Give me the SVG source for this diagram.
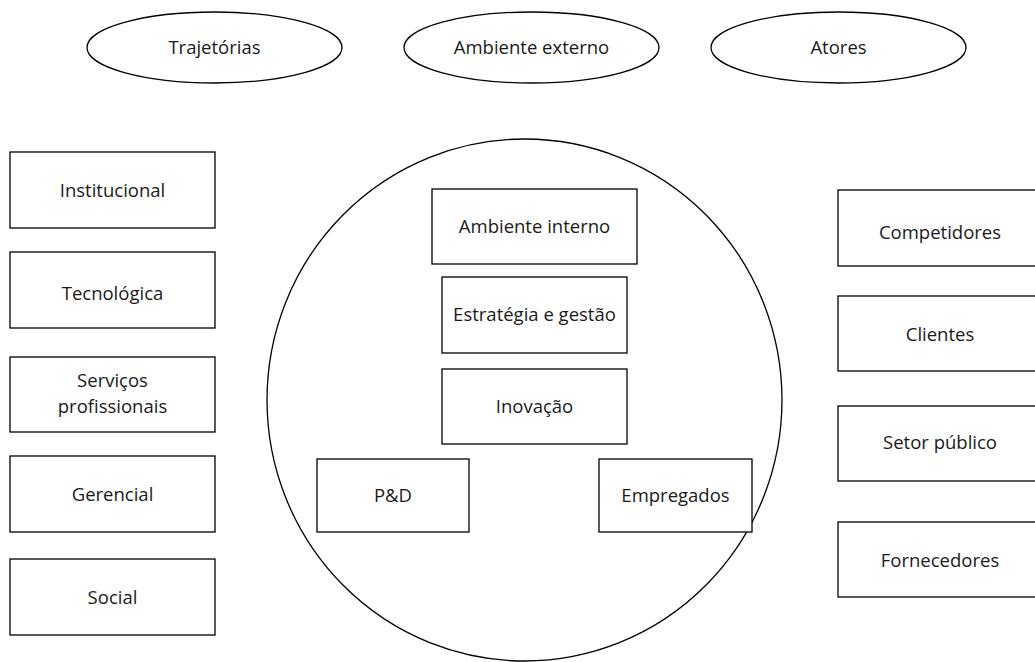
<svg xmlns="http://www.w3.org/2000/svg" width="1035" height="662" viewBox="0 0 1035 662">
<style>
.s{fill:#fff;stroke:#000;stroke-width:1.3}
.t{font-family:"Open Sans","Liberation Sans",sans-serif;font-size:18.5px;fill:#1a1a1a;text-anchor:middle}
</style>
<rect width="1035" height="662" fill="#fff"/>
<g id="trajetorias"><ellipse class="s" cx="214.5" cy="47.5" rx="127.5" ry="35.5"/><text class="t" x="214.5" y="54">Trajetórias</text></g>
<g id="ambiente-externo"><ellipse class="s" cx="531.5" cy="47.5" rx="127.5" ry="35.5"/><text class="t" x="531.5" y="54">Ambiente externo</text></g>
<g id="atores"><ellipse class="s" cx="838.5" cy="47.5" rx="127.5" ry="35.5"/><text class="t" x="838.5" y="54">Atores</text></g>
<g id="institucional"><rect class="s" x="10" y="152" width="205" height="76"/><text class="t" x="112.5" y="197">Institucional</text></g>
<g id="tecnologica"><rect class="s" x="10" y="252" width="205" height="76"/><text class="t" x="112.5" y="300">Tecnológica</text></g>
<g id="servicos"><rect class="s" x="10" y="357" width="205" height="75"/><text class="t" x="112.5" y="387">Serviços</text><text class="t" x="112.5" y="413">profissionais</text></g>
<g id="gerencial"><rect class="s" x="10" y="456" width="205" height="76"/><text class="t" x="112.5" y="501">Gerencial</text></g>
<g id="social"><rect class="s" x="10" y="559" width="205" height="76"/><text class="t" x="112.5" y="604">Social</text></g>
<g id="empresa"><ellipse class="s" cx="524.5" cy="400" rx="257.5" ry="261"/></g>
<g id="ambiente-interno"><rect class="s" x="432" y="189" width="205" height="75"/><text class="t" x="534.5" y="233">Ambiente interno</text></g>
<g id="estrategia"><rect class="s" x="442" y="277" width="185" height="76"/><text class="t" x="534.5" y="321">Estratégia e gestão</text></g>
<g id="inovacao"><rect class="s" x="442" y="369" width="185" height="75"/><text class="t" x="534.5" y="413">Inovação</text></g>
<g id="ped"><rect class="s" x="317" y="459" width="152" height="73"/><text class="t" x="393" y="502">P&amp;D</text></g>
<g id="empregados"><rect class="s" x="599" y="459" width="153" height="73"/><text class="t" x="675.5" y="502">Empregados</text></g>
<g id="competidores"><rect class="s" x="838" y="190" width="205" height="76"/><text class="t" x="940" y="239">Competidores</text></g>
<g id="clientes"><rect class="s" x="838" y="296" width="205" height="75"/><text class="t" x="940" y="341">Clientes</text></g>
<g id="setor-publico"><rect class="s" x="838" y="406" width="205" height="75"/><text class="t" x="940" y="449">Setor público</text></g>
<g id="fornecedores"><rect class="s" x="838" y="522" width="205" height="75"/><text class="t" x="940" y="567">Fornecedores</text></g>
<g id="connectors"></g>
</svg>
